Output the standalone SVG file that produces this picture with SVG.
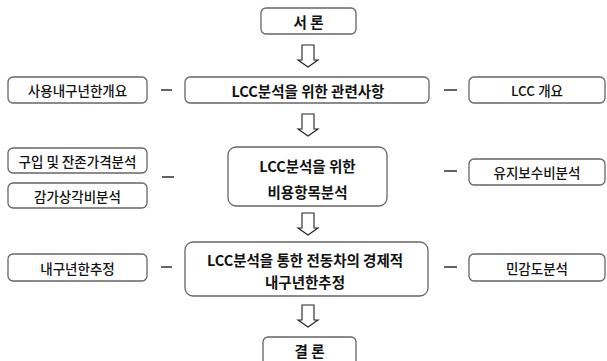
<svg xmlns="http://www.w3.org/2000/svg" width="607" height="361" viewBox="0 0 607 361">
<style>
.box{fill:#fff;stroke:#666;stroke-width:1.3}
.t{font-family:"Noto Sans CJK KR","Noto Sans",sans-serif;fill:#111;text-anchor:middle;dominant-baseline:central}
.m{font-size:14.5px;font-weight:700}
.s{font-size:13.5px;font-weight:500}
.dash{stroke:#222;stroke-width:1.4}
.arr{fill:#fff;stroke:#222;stroke-width:1.1;stroke-linejoin:miter}
</style>
<rect width="607" height="361" fill="#fff"/>
<g id="n-intro"><rect class="box" x="261" y="8" width="95" height="26" rx="5"/><text class="t m" x="308.5" y="21">서 론</text></g>
<g id="n-main1"><rect class="box" x="185" y="77" width="244" height="26" rx="5"/><text class="t m" x="308" y="90">LCC분석을 위한 관련사항</text></g>
<g id="n-left1"><rect class="box" x="8" y="77" width="139" height="26" rx="5"/><text class="t s" x="77.5" y="90">사용내구년한개요</text></g>
<g id="n-right1"><rect class="box" x="469" y="77" width="136" height="26" rx="5"/><text class="t s" x="537" y="90">LCC 개요</text></g>
<g id="n-main2"><rect class="box" x="228" y="147" width="159" height="59" rx="8"/><text class="t m" x="307.5" y="165">LCC분석을 위한</text><text class="t m" x="307.5" y="191">비용항목분석</text></g>
<g id="n-left2a"><rect class="box" x="8" y="148" width="139" height="25" rx="5"/><text class="t s" x="77.5" y="160.5">구입 및 잔존가격분석</text></g>
<g id="n-left2b"><rect class="box" x="8" y="183" width="139" height="25" rx="5"/><text class="t s" x="77.5" y="195.5">감가상각비분석</text></g>
<g id="n-right2"><rect class="box" x="469" y="159" width="136" height="26" rx="5"/><text class="t s" x="537" y="172">유지보수비분석</text></g>
<g id="n-main3"><rect class="box" x="185" y="242" width="243" height="54" rx="8"/><text class="t m" x="305" y="259">LCC분석을 통한 전동차의 경제적</text><text class="t m" x="305" y="281">내구년한추정</text></g>
<g id="n-left3"><rect class="box" x="8" y="254" width="139" height="27" rx="5"/><text class="t s" x="77.5" y="267.5">내구년한추정</text></g>
<g id="n-right3"><rect class="box" x="469" y="254" width="136" height="27" rx="5"/><text class="t s" x="537" y="267.5">민감도분석</text></g>
<g id="n-concl"><rect class="box" x="263" y="337" width="93" height="30" rx="5"/><text class="t m" x="309.5" y="350">결 론</text></g>
<g id="connectors">
<path class="arr" d="M302,45 H314 V60 H318 L308,67 L298,60 H302 Z"/>
<path class="arr" d="M302,114 H314 V129 H318 L308,136 L298,129 H302 Z"/>
<path class="arr" d="M302,213 H314 V228 H318 L308,235 L298,228 H302 Z"/>
<path class="arr" d="M302,305 H314 V320 H318 L308,327 L298,320 H302 Z"/>
<line class="dash" x1="161" y1="90" x2="172" y2="90"/>
<line class="dash" x1="444" y1="90" x2="457" y2="90"/>
<line class="dash" x1="162" y1="177" x2="174" y2="177"/>
<line class="dash" x1="444" y1="171" x2="457" y2="171"/>
<line class="dash" x1="161" y1="267" x2="172" y2="267"/>
<line class="dash" x1="444" y1="267" x2="457" y2="267"/>
</g>
</svg>
